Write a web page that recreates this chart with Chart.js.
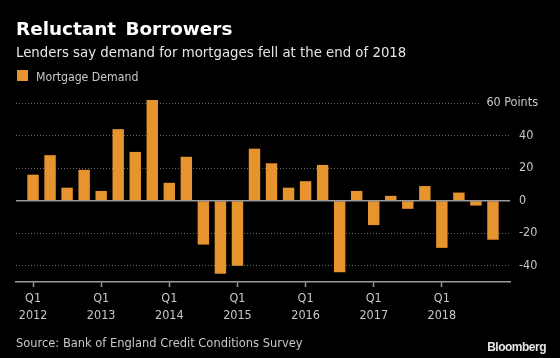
<!DOCTYPE html>
<html>
<head>
<meta charset="utf-8">
<script src="https://cdn.jsdelivr.net/npm/chart.js@4/dist/chart.umd.min.js"></script>
<style>
  html, body { margin: 0; padding: 0; background: #000; }
  #wrap { position: relative; width: 560px; height: 358px; background: #000; overflow: hidden; }
  #wrap canvas { position: absolute; left: 0; top: 0; }
  .t { position: absolute; white-space: nowrap; line-height: 1; }
  #title { left: 16px; top: 18px; font: bold 18.4px "DejaVu Sans"; color: #fff; word-spacing: 3px; }
  #sub { left: 16px; top: 42.7px; font: 14.8px "DejaVu Sans Condensed", "DejaVu Sans"; color: #e6e6e6; }
  #leg { left: 36px; top: 70px; font: 12.2px "DejaVu Sans Condensed", "DejaVu Sans"; color: #c8c8c8; }
  #legsw { position: absolute; left: 17px; top: 70px; width: 11px; height: 11px; background: #e6942d; }
  #src { left: 16px; top: 335px; font: 12.75px "DejaVu Sans Condensed", "DejaVu Sans"; color: #c8c8c8; }
  #bb { right: 14px; top: 340px; font: bold 12px "Liberation Sans"; color: #e6e6e6; letter-spacing: -0.5px; }
</style>
</head>
<body>
<div id="wrap">
  <canvas id="c" width="560" height="358"></canvas>
  <div class="t" id="title">Reluctant Borrowers</div>
  <div class="t" id="sub">Lenders say demand for mortgages fell at the end of 2018</div>
  <div id="legsw"></div>
  <div class="t" id="leg">Mortgage Demand</div>
  <div class="t" id="src">Source: Bank of England Credit Conditions Survey</div>
  <div class="t" id="bb">Bloomberg</div>
</div>
<script>
// Quarterly categories, Q1 2012 .. Q4 2018
const quarters = [
  "Q1 2012","Q2 2012","Q3 2012","Q4 2012",
  "Q1 2013","Q2 2013","Q3 2013","Q4 2013",
  "Q1 2014","Q2 2014","Q3 2014","Q4 2014",
  "Q1 2015","Q2 2015","Q3 2015","Q4 2015",
  "Q1 2016","Q2 2016","Q3 2016","Q4 2016",
  "Q1 2017","Q2 2017","Q3 2017","Q4 2017",
  "Q1 2018","Q2 2018","Q3 2018","Q4 2018"
];
const mortgageDemand = [
  16, 28, 8, 19,
  6, 44, 30, 62,
  11, 27, -27, -45,
  -40, 32, 23, 8,
  12, 22, -44, 6,
  -15, 3, -5, 9,
  -29, 5, -3, -24
];
const yTickValues = [-40, -20, 0, 20, 40, 60];
const xTickQuarters = ["Q1 2012","Q1 2013","Q1 2014","Q1 2015","Q1 2016","Q1 2017","Q1 2018"];
const topTickLabel = "60 Points";

const gray = '#c8c8c8';
const tickFont = { family: '"DejaVu Sans Condensed", "DejaVu Sans"', size: 12.5, lineHeight: 1.3 };

const overlay = {
  id: 'overlay',
  afterDatasetsDraw(chart) {
    const { ctx, chartArea, scales } = chart;
    const y0 = scales.y.getPixelForValue(0);
    ctx.save();
    ctx.strokeStyle = '#9a9a9a';
    ctx.lineWidth = 1.5;
    ctx.beginPath();
    ctx.moveTo(chartArea.left, y0);
    ctx.lineTo(chartArea.right, y0);
    ctx.stroke();
    const yTop = scales.y.getPixelForValue(yTickValues[yTickValues.length - 1]);
    ctx.fillStyle = '#000';
    ctx.fillRect(chartArea.right - 31, yTop - 4, 40, 8);
    ctx.fillStyle = gray;
    ctx.font = '12.5px "DejaVu Sans Condensed", "DejaVu Sans"';
    ctx.textAlign = 'right';
    ctx.textBaseline = 'middle';
    ctx.fillText(topTickLabel, chartArea.right + 28, yTop);
    ctx.restore();
  }
};

new Chart(document.getElementById('c'), {
  type: 'bar',
  data: {
    labels: quarters,
    datasets: [{
      label: 'Mortgage Demand',
      data: mortgageDemand.map((v, i) => ({ x: i, y: v })),
      backgroundColor: '#e6942d',
      borderWidth: 0,
      barPercentage: 0.67,
      categoryPercentage: 1
    }]
  },
  options: {
    responsive: false,
    animation: false,
    devicePixelRatio: 1,
    layout: { padding: { left: 16, top: 95, right: 0, bottom: 26 } },
    plugins: { legend: { display: false }, tooltip: { enabled: false }, title: { display: false } },
    scales: {
      x: {
        type: 'linear',
        min: -1,
        max: quarters.length,
        offset: false,
        afterBuildTicks(s) { s.ticks = xTickQuarters.map(q => ({ value: quarters.indexOf(q) })); },
        afterFit(s) { s.height = 50; },
        grid: { offset: false, drawOnChartArea: false, drawTicks: true, tickLength: 5, tickColor: '#9a9a9a', tickWidth: 1.5 },
        border: { display: true, color: '#9a9a9a', width: 1.5 },
        ticks: {
          autoSkip: false, maxRotation: 0, color: gray, font: tickFont, padding: 4,
          callback(v) { const q = quarters[v]; return q ? q.split(' ') : ''; }
        }
      },
      y: {
        position: 'right',
        min: -50,
        max: 65,
        afterBuildTicks(s) { s.ticks = yTickValues.map(v => ({ value: v })); },
        afterFit(s) { s.width = 50; },
        grid: { color: '#6a6a6a', lineWidth: 1, drawTicks: false },
        border: { display: false, dash: [1, 2] },
        ticks: {
          color: gray, font: tickFont, padding: 9,
          callback(v) { return v === yTickValues[yTickValues.length - 1] ? '' : String(v); }
        }
      }
    }
  },
  plugins: [overlay]
});
</script>
</body>
</html>
